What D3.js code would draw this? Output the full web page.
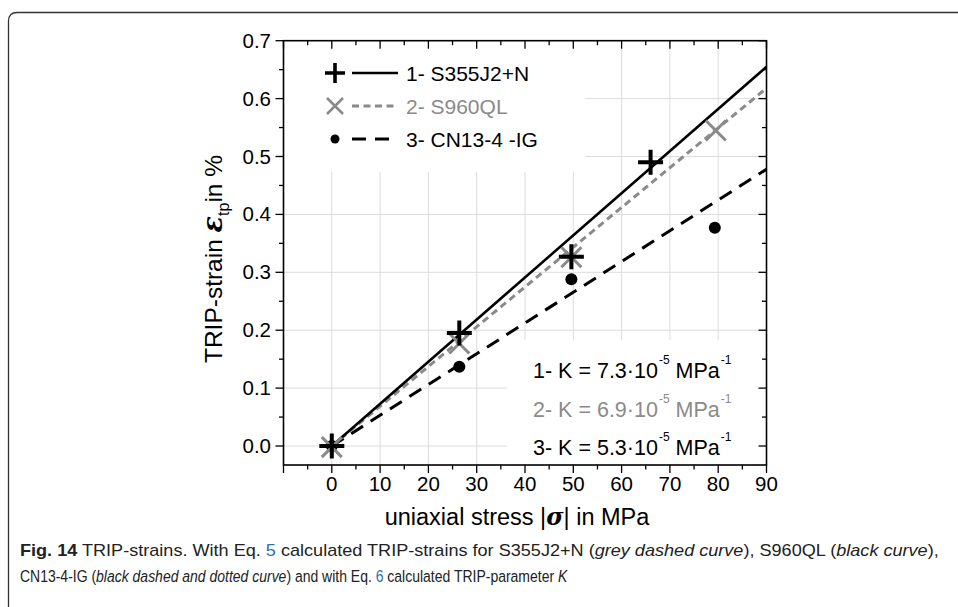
<!DOCTYPE html>
<html>
<head>
<meta charset="utf-8">
<script src="https://cdn.jsdelivr.net/npm/d3@7"></script>
<style>
  html, body { margin: 0; padding: 0; background: #fff; }
  svg { display: block; }
  .chart text { font-family: "Liberation Sans", Arial, sans-serif; }
  .cap text { font-family: "Liberation Sans", Arial, sans-serif; }
</style>
</head>
<body>
<svg id="fig" width="958" height="607"></svg>
<script>
// ---------------- data ----------------
const xMajorTicks = [-10, 0, 10, 20, 30, 40, 50, 60, 70, 80, 90];
const xLabelTicks = [0, 10, 20, 30, 40, 50, 60, 70, 80, 90];
const xMinorTicks = [-5, 5, 15, 25, 35, 45, 55, 65, 75, 85];
const yMajorTicks = [0.0, 0.1, 0.2, 0.3, 0.4, 0.5, 0.6, 0.7];
const yMinorTicks = [0.05, 0.15, 0.25, 0.35, 0.45, 0.55, 0.65];
const xGrid = [0, 10, 20, 30, 40, 50, 60, 70, 80];
const yGrid = [0.0, 0.1, 0.2, 0.3, 0.4, 0.5, 0.6];

const s355Points = [{x: 0, y: 0.0}, {x: 26.4, y: 0.195}, {x: 49.6, y: 0.327}, {x: 66.0, y: 0.490}];
const s960Points = [{x: 0, y: -0.002}, {x: 26.4, y: 0.177}, {x: 49.6, y: 0.326}, {x: 79.5, y: 0.545}];
const cn13Points = [{x: 0, y: 0.0}, {x: 26.4, y: 0.137}, {x: 49.6, y: 0.288}, {x: 79.3, y: 0.377}];

const s355Fit = [{x: 0, y: 0.0}, {x: 90, y: 0.655}];
const s960Fit = [{x: 0, y: 0.0}, {x: 90, y: 0.618}];
const cn13Fit = [{x: 0, y: 0.0}, {x: 90, y: 0.478}];

const legendLabels = ["1- S355J2+N", "2- S960QL", "3- CN13-4 -IG"];
const kLabels = [
  {pre: "1- K = 7.3\u00B710", exp: "-5", unit: " MPa", uexp: "-1"},
  {pre: "2- K = 6.9\u00B710", exp: "-5", unit: " MPa", uexp: "-1"},
  {pre: "3- K = 5.3\u00B710", exp: "-5", unit: " MPa", uexp: "-1"}
];

// ---------------- layout ----------------
const BLACK = "#000", GREY = "#8a8a8a", GRIDC = "#dcdcdc";
const svg = d3.select("#fig");

// outer frame (rounded)
svg.append("path")
  .attr("d", "M8.5,620 L8.5,21 Q8.5,12.5 17,12.5 L970,12.5")
  .attr("fill", "none").attr("stroke", "#333").attr("stroke-width", 1.3);

const x = d3.scaleLinear().domain([-10, 90]).range([283.5, 766.5]);
const y = d3.scaleLinear().domain([-0.0328, 0.7]).range([465, 40.7]);

const g = svg.append("g").attr("class", "chart");

// grid
g.append("g").selectAll("line").data(xGrid).join("line")
  .attr("x1", d => x(d)).attr("x2", d => x(d))
  .attr("y1", y.range()[0]).attr("y2", y.range()[1])
  .attr("stroke", GRIDC).attr("stroke-width", 1);
g.append("g").selectAll("line").data(yGrid).join("line")
  .attr("y1", d => y(d)).attr("y2", d => y(d))
  .attr("x1", x.range()[0]).attr("x2", x.range()[1])
  .attr("stroke", GRIDC).attr("stroke-width", 1);

// white boxes of the legend and K text (cover grid)
g.append("rect").attr("x", x(-10) + 1).attr("y", y(0.7) + 1)
  .attr("width", 301).attr("height", 130).attr("fill", "#fff");
g.append("rect").attr("x", 507).attr("y", 340)
  .attr("width", x(90) - 507 - 1).attr("height", y(-0.0328) - 340 - 1).attr("fill", "#fff");

// fit lines
const line = d3.line().x(d => x(d.x)).y(d => y(d.y));
g.append("path").datum(cn13Fit).attr("d", line)
  .attr("fill", "none").attr("stroke", BLACK).attr("stroke-width", 3)
  .attr("stroke-dasharray", "14,9");
g.append("path").datum(s960Fit).attr("d", line)
  .attr("fill", "none").attr("stroke", GREY).attr("stroke-width", 3)
  .attr("stroke-dasharray", "7,4.5");
g.append("path").datum(s355Fit).attr("d", line)
  .attr("fill", "none").attr("stroke", BLACK).attr("stroke-width", 2.6);

// markers
function plus(sel, cx, cy, r, color, w) {
  sel.append("path").attr("d", `M${cx - r},${cy}H${cx + r}M${cx},${cy - r}V${cy + r}`)
    .attr("stroke", color).attr("stroke-width", w).attr("fill", "none");
}
function cross(sel, cx, cy, r, color, w) {
  sel.append("path").attr("d", `M${cx - r},${cy - r}L${cx + r},${cy + r}M${cx - r},${cy + r}L${cx + r},${cy - r}`)
    .attr("stroke", color).attr("stroke-width", w).attr("fill", "none");
}
const mk = g.append("g");
cn13Points.forEach(d => mk.append("circle").attr("cx", x(d.x)).attr("cy", y(d.y)).attr("r", 6).attr("fill", BLACK));
s960Points.forEach(d => cross(mk, x(d.x), y(d.y), 10, GREY, 3));
s355Points.forEach(d => plus(mk, x(d.x), y(d.y), 12.5, BLACK, 4));

// axes frame
const [x0, x1] = x.range(), [yb, yt] = y.range();
g.append("rect").attr("x", x0).attr("y", yt).attr("width", x1 - x0).attr("height", yb - yt)
  .attr("fill", "none").attr("stroke", BLACK).attr("stroke-width", 1.6);

const tk = g.append("g").attr("stroke", BLACK).attr("stroke-width", 1.3);
const MAJ = 8, MIN = 4.5;
// bottom (outward) & top (inward)
xMajorTicks.forEach(d => {
  tk.append("line").attr("x1", x(d)).attr("x2", x(d)).attr("y1", yb).attr("y2", yb + MAJ);
  tk.append("line").attr("x1", x(d)).attr("x2", x(d)).attr("y1", yt).attr("y2", yt + MAJ);
});
xMinorTicks.forEach(d => {
  tk.append("line").attr("x1", x(d)).attr("x2", x(d)).attr("y1", yb).attr("y2", yb + MIN);
  tk.append("line").attr("x1", x(d)).attr("x2", x(d)).attr("y1", yt).attr("y2", yt + MIN);
});
// left (outward) & right (inward)
yMajorTicks.forEach(d => {
  tk.append("line").attr("y1", y(d)).attr("y2", y(d)).attr("x1", x0).attr("x2", x0 - MAJ);
  tk.append("line").attr("y1", y(d)).attr("y2", y(d)).attr("x1", x1).attr("x2", x1 - MAJ);
});
yMinorTicks.forEach(d => {
  tk.append("line").attr("y1", y(d)).attr("y2", y(d)).attr("x1", x0).attr("x2", x0 - MIN);
  tk.append("line").attr("y1", y(d)).attr("y2", y(d)).attr("x1", x1).attr("x2", x1 - MIN);
});

// tick labels
g.append("g").selectAll("text").data(xLabelTicks).join("text")
  .attr("x", d => x(d)).attr("y", 491).attr("text-anchor", "middle")
  .attr("font-size", 20.5).attr("fill", BLACK).text(d => d);
g.append("g").selectAll("text").data(yMajorTicks).join("text")
  .attr("x", 271).attr("y", d => y(d) + 7).attr("text-anchor", "end")
  .attr("font-size", 20.5).attr("fill", BLACK).text(d => d.toFixed(1));

// axis titles
const xt = g.append("text").attr("x", 517).attr("y", 525).attr("text-anchor", "middle")
  .attr("font-size", 23.5).attr("fill", BLACK);
xt.append("tspan").text("uniaxial stress |");
xt.append("tspan").text("\u03C3").attr("font-weight", "bold").attr("font-style", "italic")
  .attr("font-family", "'DejaVu Serif', serif");
xt.append("tspan").text("| in MPa");

const yt2 = g.append("text").attr("transform", "translate(222,259) rotate(-90)")
  .attr("text-anchor", "middle").attr("font-size", 24.5).attr("fill", BLACK);
yt2.append("tspan").text("TRIP-strain ");
yt2.append("tspan").text("\u03B5").attr("font-weight", "bold").attr("font-style", "italic")
  .attr("font-family", "'DejaVu Serif', serif").attr("font-size", 27);
yt2.append("tspan").text("tp").attr("font-size", 16).attr("dy", 7);
yt2.append("tspan").text("in %").attr("dy", -7);

// legend
const lg = g.append("g");
const legRows = [73, 106, 139];
plus(lg, 335, legRows[0], 10, BLACK, 3.6);
cross(lg, 335, legRows[1], 8, GREY, 2.6);
lg.append("circle").attr("cx", 335).attr("cy", legRows[2]).attr("r", 4.5).attr("fill", BLACK);
lg.append("line").attr("x1", 352).attr("x2", 398).attr("y1", legRows[0]).attr("y2", legRows[0])
  .attr("stroke", BLACK).attr("stroke-width", 2.6);
lg.append("line").attr("x1", 352).attr("x2", 398).attr("y1", legRows[1]).attr("y2", legRows[1])
  .attr("stroke", GREY).attr("stroke-width", 3).attr("stroke-dasharray", "7,4.5");
lg.append("line").attr("x1", 352).attr("x2", 398).attr("y1", legRows[2]).attr("y2", legRows[2])
  .attr("stroke", BLACK).attr("stroke-width", 3).attr("stroke-dasharray", "14,9");
const legColors = [BLACK, GREY, BLACK];
legendLabels.forEach((t, i) => {
  lg.append("text").attr("x", 406).attr("y", legRows[i] + 7.5).attr("font-size", 21)
    .attr("fill", legColors[i]).text(t);
});

// K annotations
const kRows = [378, 417, 455];
kLabels.forEach((k, i) => {
  const t = g.append("text").attr("x", 533).attr("y", kRows[i]).attr("font-size", 21.5)
    .attr("fill", legColors[i]);
  t.append("tspan").text(k.pre);
  t.append("tspan").text(k.exp).attr("font-size", 12).attr("dy", -14).attr("dx", 1);
  t.append("tspan").text(k.unit).attr("dy", 14);
  t.append("tspan").text(k.uexp).attr("font-size", 12).attr("dy", -14).attr("dx", 1);
});

// caption (condensed look: horizontal scale fitted to the reference line widths)
const cap = svg.append("g").attr("class", "cap");
const LINK = "#2f6db5";
function capLine(yPos, targetWidth, parts) {
  const gg = cap.append("g");
  const t = gg.append("text").attr("x", 0).attr("y", 0).attr("font-size", 17).attr("fill", "#222");
  parts.forEach(p => {
    const s = t.append("tspan").text(p.t);
    if (p.b) s.attr("font-weight", "bold");
    if (p.i) s.attr("font-style", "italic");
    if (p.c) s.attr("fill", p.c);
  });
  const w = t.node().getComputedTextLength();
  gg.attr("transform", `translate(20,${yPos}) scale(${targetWidth / w},1)`);
}
capLine(556, 919, [
  {t: "Fig. 14", b: true}, {t: "  TRIP-strains. With Eq. "}, {t: "5", c: LINK},
  {t: " calculated TRIP-strains for S355J2+N ("}, {t: "grey dashed curve", i: true},
  {t: "), S960QL ("}, {t: "black curve", i: true}, {t: "),"}
]);
capLine(582, 548, [
  {t: "CN13-4-IG ("}, {t: "black dashed and dotted curve", i: true},
  {t: ") and with Eq. "}, {t: "6", c: LINK}, {t: " calculated TRIP-parameter "},
  {t: "K", i: true}
]);
</script>
</body>
</html>
